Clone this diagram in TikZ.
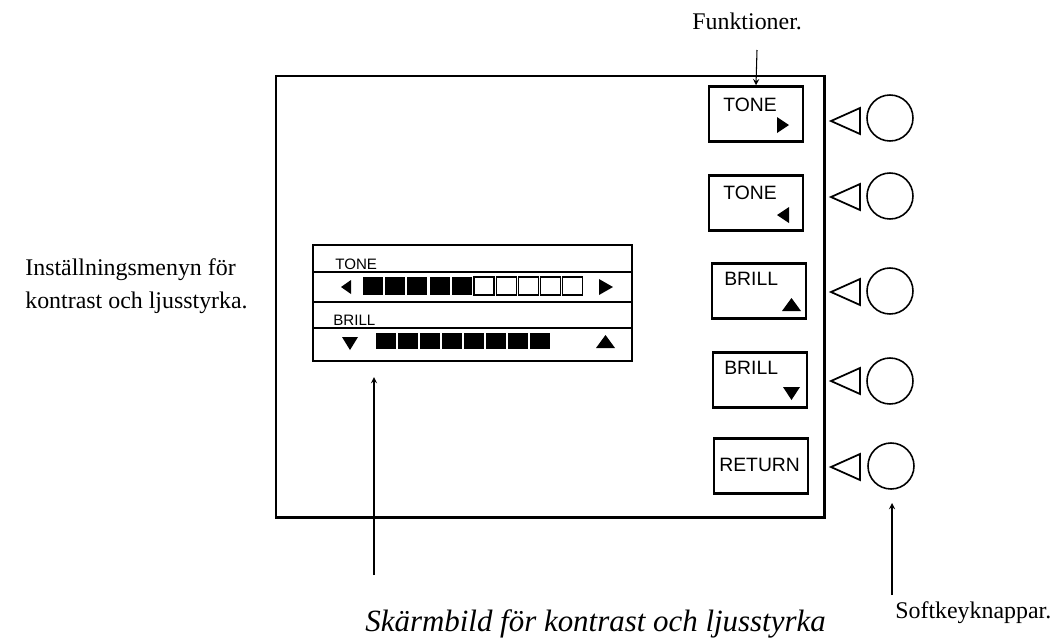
\documentclass[tikz,border=0pt]{standalone}
\usepackage{fontspec}
\setmainfont{Liberation Serif}
\setsansfont{Liberation Sans}
\usetikzlibrary{arrows,positioning,calc}

\begin{document}
\begin{tikzpicture}[x=0.02cm, y=-0.02cm,
    screen/.style={draw, line width=1.7pt},
    softbtn/.style={draw, line width=1.4pt, minimum width=1.88cm, minimum height=1.1cm, inner sep=0pt},
    btnlabel/.style={font=\sffamily\fontsize{11}{11}\selectfont, inner sep=0pt, anchor=base west},
    menulabel/.style={font=\sffamily\fontsize{8.6}{9}\selectfont, inner sep=0pt, anchor=base west},
    softkey/.style={circle, draw, line width=0.9pt, minimum size=0.92cm, inner sep=0pt},
    notch/.style={draw, line width=1pt, line join=miter},
    celloff/.style={draw, line width=0.6pt},
    arr/.style={->, >=stealth, line width=0.6pt},
    txt/.style={font=\fontsize{13.6}{18.7}\selectfont, inner sep=0pt},
]
\useasboundingbox (0,0) rectangle (1062,640);

% screen frame
\draw[screen] (276,76) rectangle (824,517);

% soft buttons on the screen
\node[softbtn] (b1) at (756,114) {};
\node[softbtn] (b2) at (756,203) {};
\node[softbtn] (b3) at (759,291) {};
\node[softbtn] (b4) at (760,380) {};
\node[softbtn] (b5) at (761,466) {};
\node[btnlabel] (b1t) at (723,111) {TONE};
\node[btnlabel] (b2t) at (723,199) {TONE};
\node[btnlabel] (b3t) at (724,285) {BRILL};
\node[btnlabel] (b4t) at (724,374) {BRILL};
\node[btnlabel] (b5t) at (719,471) {RETURN};
\fill (777,117) -- (789,125) -- (777,133) -- cycle;
\fill (789,207) -- (777,215) -- (789,223) -- cycle;
\fill (782,311) -- (791.5,298) -- (801,311) -- cycle;
\fill (783,387) -- (800,387) -- (791.5,400) -- cycle;

% keys beside the screen
\draw[notch] (860,108) -- (831,121) -- (860,134) -- cycle;
\draw[notch] (860,184) -- (831,197) -- (860,210) -- cycle;
\draw[notch] (860,279) -- (831,292) -- (860,305) -- cycle;
\draw[notch] (860,368) -- (831,381) -- (860,394) -- cycle;
\draw[notch] (860,454) -- (831,467) -- (860,480) -- cycle;
\node[softkey] (k1) at (890,118) {};
\node[softkey] (k2) at (890,196) {};
\node[softkey] (k3) at (890,291) {};
\node[softkey] (k4) at (890,381) {};
\node[softkey] (k5) at (891,466) {};

% settings menu
\node[draw, line width=1.2pt, minimum width=6.38cm, minimum height=2.32cm, inner sep=0pt] (menu) at (472.5,303) {};
\draw[line width=0.9pt] (313,272) -- (632,272);
\draw[line width=0.9pt] (313,302) -- (632,302);
\draw[line width=0.9pt] (313,328) -- (632,328);
\node[menulabel] (mtone) at (335,269) {TONE};
\node[menulabel] (mbrill) at (333,325) {BRILL};
\fill (341,287) -- (351,280) -- (351,294) -- cycle;
\fill (599,279) -- (613,287) -- (599,295) -- cycle;
\foreach \i in {0,...,4} \fill (363+22.2*\i,277) rectangle ++(20,18);
\foreach \i in {5,...,9} \draw[celloff] (363+22.2*\i,277) rectangle ++(20,18);
\fill (342,337) -- (358,337) -- (350,350) -- cycle;
\fill (596,348) -- (605.5,335) -- (615,348) -- cycle;
\foreach \i in {0,...,7} \fill (376+22*\i,333) rectangle ++(20,16);

% labels and pointers
\node[txt, anchor=base west] (fn) at (692,29) {Funktioner.};
\node[txt, anchor=west, align=left] (menutext) at (25,286) {Inställningsmenyn för\\kontrast och ljusstyrka.};
\node[txt, anchor=base west] (sk) at (895,618) {Softkeyknappar.};
\node[font=\itshape\fontsize{17.6}{20}\selectfont, inner sep=0pt, anchor=base west] (cap) at (365,631) {Skärmbild för kontrast och ljusstyrka};
\coordinate (fnfoot) at (757,50);
\coordinate (capfoot) at (374,575);
\coordinate (menutip) at (374,377);
\coordinate (skfoot) at (892,595);
\coordinate (sktip) at (892,503);
\draw[arr] (fnfoot) -- (b1.north);
\draw[arr] (capfoot) -- (menutip);
\draw[arr] (skfoot) -- (sktip);
\end{tikzpicture}
\end{document}
